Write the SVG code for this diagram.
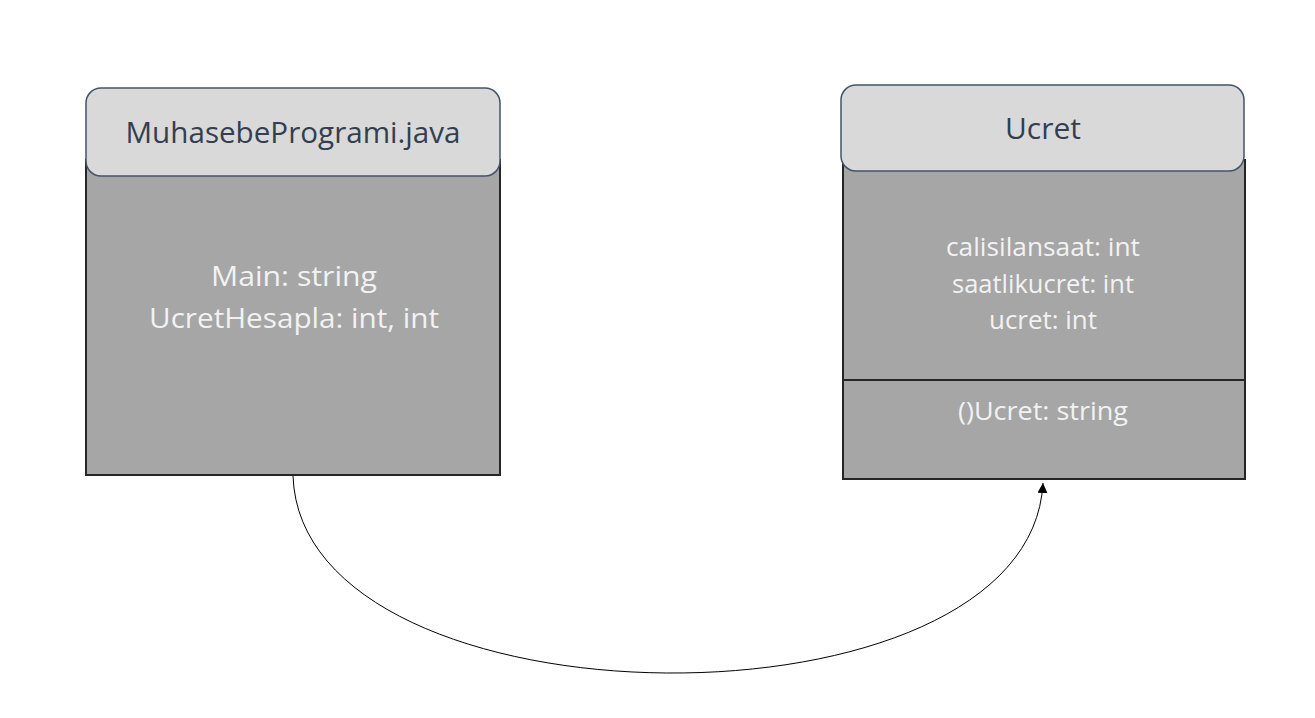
<svg xmlns="http://www.w3.org/2000/svg" width="1315" height="718" viewBox="0 0 1315 718">
<defs>
<style>
.body{fill:#a6a6a6;stroke:#262626;stroke-width:2}
.head{fill:#d9d9d9;stroke:#44546a;stroke-width:1.5}
.ht{font-family:"Open Sans","Liberation Sans",sans-serif;font-size:30px;fill:#333f50;text-anchor:middle}
.bt{font-family:"Open Sans","Liberation Sans",sans-serif;fill:#f2f2f2;text-anchor:middle}
.conn{fill:none;stroke:#000;stroke-width:1}
</style>
<marker id="arr" viewBox="0 0 10 10" refX="10" refY="5" markerWidth="10" markerHeight="10" markerUnits="userSpaceOnUse" orient="auto">
<path d="M0,0 L10,5 L0,10 Z" fill="#000"/>
</marker>
</defs>
<rect width="1315" height="718" fill="#fff"/>
<g id="connectors">
<path class="conn" d="M293,476 C302,735 1030,740 1043,483" marker-end="url(#arr)"/>
</g>
<g id="muhasebe">
<rect class="body" x="86" y="160" width="414" height="315"/>
<rect class="head" x="86" y="88" width="414" height="88" rx="15"/>
<text class="ht" x="293" y="143" textLength="335" lengthAdjust="spacingAndGlyphs">MuhasebeProgrami.java</text>
<text class="bt" x="294" y="286" font-size="27" textLength="166" lengthAdjust="spacingAndGlyphs">Main: string</text>
<text class="bt" x="294" y="328" font-size="27" textLength="290" lengthAdjust="spacingAndGlyphs">UcretHesapla: int, int</text>
</g>
<g id="ucret">
<rect class="body" x="843" y="160" width="402" height="220"/>
<rect class="body" x="843" y="380" width="402" height="99"/>
<rect class="head" x="841" y="85" width="403" height="86" rx="15"/>
<text class="ht" x="1043" y="139" textLength="76" lengthAdjust="spacingAndGlyphs">Ucret</text>
<text class="bt" x="1043" y="256" font-size="25" textLength="194" lengthAdjust="spacingAndGlyphs">calisilansaat: int</text>
<text class="bt" x="1043" y="293" font-size="25" textLength="182" lengthAdjust="spacingAndGlyphs">saatlikucret: int</text>
<text class="bt" x="1043" y="329" font-size="25" textLength="108" lengthAdjust="spacingAndGlyphs">ucret: int</text>
<text class="bt" x="1043" y="420" font-size="25" textLength="170" lengthAdjust="spacingAndGlyphs">()Ucret: string</text>
</g>
</svg>
